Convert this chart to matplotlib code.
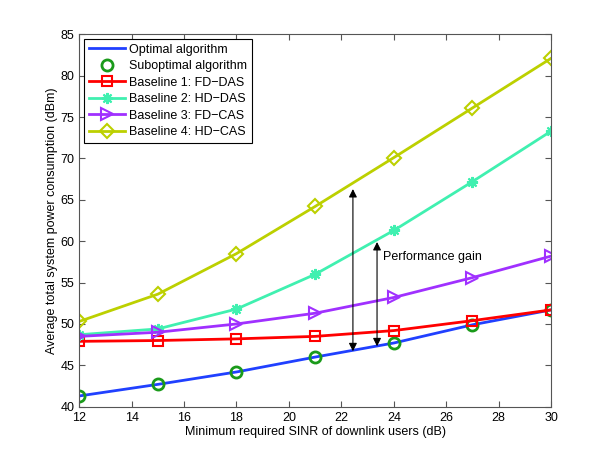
import numpy as np
import matplotlib
matplotlib.use("Agg")
import matplotlib.pyplot as plt

# SINR targets (dB)
sinr = [12, 15, 18, 21, 24, 27, 30]

# average total system power consumption (dBm)
optimal = [41.3, 42.7, 44.2, 46.0, 47.7, 49.9, 51.7]
suboptimal = [41.3, 42.7, 44.2, 46.0, 47.7, 49.9, 51.7]
fd_das = [47.9, 48.0, 48.2, 48.5, 49.2, 50.4, 51.7]
hd_das = [48.7, 49.4, 51.8, 56.0, 61.3, 67.2, 73.3]
fd_cas = [48.5, 49.0, 50.0, 51.3, 53.2, 55.6, 58.2]
hd_cas = [50.3, 53.6, 58.5, 64.2, 70.1, 76.1, 82.1]

xticks = [12, 14, 16, 18, 20, 22, 24, 26, 28, 30]
yticks = [40, 45, 50, 55, 60, 65, 70, 75, 80, 85]

plt.rcParams["font.family"] = ["Liberation Sans", "DejaVu Sans"]

fig = plt.figure(figsize=(6.09, 4.57), dpi=100)
ax = fig.add_axes([0.13, 0.11, 0.775, 0.815])

ax.plot(sinr, optimal, "-", color="#2040ff", lw=2, label="Optimal algorithm")
ax.plot(sinr, suboptimal, "o", color="#1a9a1a", mfc="none", mew=2, ms=8,
        label="Suboptimal algorithm")
ax.plot(sinr, fd_das, "-s", color="#ff0000", lw=2, mfc="none", mew=1.5, ms=7,
        label="Baseline 1: FD\u2212DAS")
ax.plot(sinr, hd_das, "-", marker=(8, 2, 0), color="#40f0b0", lw=2, mew=1.5,
        ms=8, label="Baseline 2: HD\u2212DAS")
ax.plot(sinr, fd_cas, "->", color="#a030ff", lw=2, mfc="none", mew=1.5, ms=8,
        label="Baseline 3: FD\u2212CAS")
ax.plot(sinr, hd_cas, "-D", color="#bcd000", lw=2, mfc="none", mew=1.5, ms=7,
        label="Baseline 4: HD\u2212CAS")

# performance gain arrows
arr = dict(arrowstyle="<|-|>", color="black", lw=0.8, shrinkA=0, shrinkB=0,
           mutation_scale=12)
ax.annotate("", xy=(22.44, 66.3), xytext=(22.44, 46.7), arrowprops=arr)
ax.annotate("", xy=(23.36, 59.9), xytext=(23.36, 47.3), arrowprops=arr)
ax.text(23.58, 58.1, "Performance gain", fontsize=9, va="center", ha="left")

ax.set_xlim(12, 30)
ax.set_ylim(40, 85)
ax.set_xticks(xticks)
ax.set_yticks(yticks)
ax.tick_params(direction="in", labelsize=9, length=4, color="#555555",
               top=True, right=True)
for s in ax.spines.values():
    s.set_color("#555555")
ax.set_xlabel("Minimum required SINR of downlink users (dB)", fontsize=9, labelpad=2)
ax.set_ylabel("Average total system power consumption (dBm)", fontsize=9, labelpad=2)

leg = ax.legend(loc="upper left", fontsize=9, fancybox=False, framealpha=1,
                edgecolor="black", borderaxespad=0.4, handlelength=2.9,
                labelspacing=0.36, borderpad=0.35, handletextpad=0.35)
leg.get_frame().set_linewidth(0.8)

fig.savefig("out.png", dpi=100)
